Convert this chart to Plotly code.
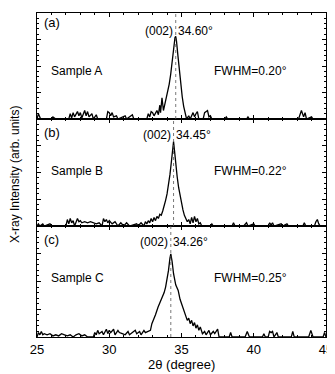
import plotly.graph_objects as go
from plotly.subplots import make_subplots

# ---- data (y as fraction of panel height) ----
xa = [25.0, 25.1, 25.25, 26.0, 26.1, 26.3, 27.2, 27.3, 27.4, 27.5, 27.6, 27.8, 27.9, 28.0, 28.1, 28.3,
      28.4, 28.5, 28.6, 28.8, 28.9, 29.1, 29.2, 29.8, 29.9, 30.0, 30.1, 30.2, 30.3, 30.5, 30.6, 31.1,
      31.2, 31.6, 31.7, 32.6, 32.7, 32.8, 32.9, 33.0, 33.1, 33.3, 33.4, 33.5, 33.55, 33.65, 33.75,
      33.85, 33.95, 34.05, 34.15, 34.25, 34.35, 34.45, 34.55, 34.60, 34.65, 34.75, 34.85, 34.95,
      35.05, 35.15, 35.25, 35.35, 35.5, 35.6, 35.8, 35.9, 36.0, 36.1, 36.2, 36.5, 36.6, 36.8, 36.9,
      37.0, 37.1, 38.0, 38.1, 38.2, 39.5, 39.6, 39.7, 43.1, 43.3, 43.45, 43.55, 43.65, 44.0, 44.1, 45.0]
ya = [0.0, 0.05, 0.0, 0.0, 0.02, 0.0, 0.0, 0.05, 0.01, 0.06, 0.02, 0.07, 0.03, 0.06, 0.01, 0.08,
      0.03, 0.07, 0.02, 0.05, 0.0, 0.04, 0.0, 0.0, 0.07, 0.06, 0.03, 0.06, 0.02, 0.03, 0.0, 0.03,
      0.0, 0.04, 0.0, 0.0, 0.05, 0.02, 0.07, 0.06, 0.03, 0.08, 0.04, 0.13, 0.06, 0.20, 0.08,
      0.14, 0.18, 0.25, 0.33, 0.42, 0.55, 0.68, 0.77, 0.78, 0.74, 0.60, 0.46, 0.33,
      0.21, 0.12, 0.05, 0.0, 0.03, 0.0, 0.06, 0.02, 0.05, 0.07, 0.0, 0.0, 0.06, 0.08, 0.02,
      0.03, 0.0, 0.0, 0.02, 0.0, 0.0, 0.02, 0.0, 0.0, 0.08, 0.02, 0.06, 0.0, 0.02, 0.0, 0.0]

xb = [25.0, 25.1, 25.2, 25.4, 25.5, 25.9, 26.0, 27.0, 27.1, 27.2, 27.3, 27.4, 27.5, 27.6, 27.8, 27.9,
      28.0, 28.1, 28.3, 28.5, 28.7, 28.9, 29.1, 29.3, 29.5, 29.6, 29.7, 29.8, 29.9, 30.0, 30.2, 30.4,
      30.6, 30.8, 31.0, 31.2, 31.4, 31.9, 32.0, 32.2, 32.4, 32.5, 32.6, 32.7, 32.8, 32.9, 33.0, 33.1,
      33.2, 33.3, 33.4, 33.5, 33.6, 33.7, 33.8, 33.9, 34.0, 34.1, 34.2, 34.3, 34.38, 34.45, 34.52,
      34.6, 34.7, 34.8, 34.9, 35.0, 35.1, 35.2, 35.3, 35.4, 35.5, 35.6, 35.7, 35.8, 35.9, 36.0, 36.1,
      36.2, 36.3, 36.4, 37.0, 37.1, 37.2, 38.5, 38.6, 38.7, 39.3, 39.4, 39.5, 39.6, 40.0, 40.1, 41.0,
      41.1, 41.2, 41.3, 41.4, 41.9, 42.0, 42.3, 42.4, 43.4, 43.5, 43.6, 44.2, 44.3, 44.4, 44.5, 44.6, 45.0]
yb = [0.0, 0.02, 0.0, 0.02, 0.0, 0.02, 0.0, 0.0, 0.06, 0.02, 0.07, 0.03, 0.05, 0.0, 0.07, 0.04,
      0.05, 0.03, 0.04, 0.03, 0.04, 0.03, 0.02, 0.03, 0.0, 0.07, 0.04, 0.06, 0.03, 0.05, 0.02, 0.04,
      0.0, 0.03, 0.0, 0.03, 0.0, 0.02, 0.0, 0.03, 0.0, 0.04, 0.02, 0.05, 0.03, 0.07, 0.04, 0.08,
      0.05, 0.09, 0.07, 0.11, 0.10, 0.14, 0.18, 0.24, 0.30, 0.38, 0.48, 0.60, 0.71, 0.79, 0.70,
      0.58, 0.46, 0.36, 0.28, 0.21, 0.15, 0.10, 0.07, 0.04, 0.06, 0.02, 0.08, 0.03, 0.09, 0.04, 0.07,
      0.02, 0.03, 0.0, 0.0, 0.02, 0.0, 0.0, 0.03, 0.0, 0.0, 0.02, 0.03, 0.0, 0.02, 0.0, 0.0,
      0.03, 0.01, 0.03, 0.0, 0.02, 0.0, 0.02, 0.0, 0.0, 0.03, 0.0, 0.0, 0.04, 0.06, 0.02, 0.0, 0.0]

xc = [25.0, 25.1, 25.2, 25.3, 25.4, 25.5, 25.7, 25.9, 26.1, 26.3, 26.5, 26.7, 26.9, 27.1, 27.3, 27.5,
      27.7, 27.9, 28.1, 28.3, 28.5, 28.9, 29.0, 29.1, 29.2, 29.3, 29.5, 29.6, 29.8, 29.9, 30.0, 30.1,
      30.3, 30.4, 30.6, 30.7, 30.9, 31.1, 31.3, 31.4, 31.6, 31.8, 31.9, 32.1, 32.2, 32.4, 32.5, 32.7,
      32.85, 32.95, 33.05, 33.2, 33.38, 33.6, 33.8, 33.9, 34.0, 34.1, 34.2, 34.26, 34.35, 34.45,
      34.6, 34.77, 34.9, 35.07, 35.2, 35.3, 35.4, 35.5, 35.6, 35.7, 35.8, 35.9, 36.0, 36.1, 36.2,
      36.3, 36.45, 36.6, 36.7, 36.9, 37.0, 37.2, 37.3, 37.5, 37.6, 38.3, 38.4, 38.5, 39.4, 39.55,
      39.7, 40.6, 40.7, 40.8, 41.0, 41.1, 41.2, 41.3, 41.4, 41.6, 41.7, 42.6, 42.7, 42.8, 43.8,
      43.95, 44.1, 44.8, 44.9, 45.0]
yc = [0.0, 0.04, 0.02, 0.05, 0.02, 0.03, 0.02, 0.03, 0.01, 0.02, 0.01, 0.03, 0.02, 0.01, 0.02, 0.0,
      0.02, 0.03, 0.01, 0.02, 0.0, 0.0, 0.04, 0.02, 0.06, 0.03, 0.05, 0.02, 0.07, 0.03, 0.06, 0.04,
      0.07, 0.02, 0.06, 0.04, 0.03, 0.02, 0.05, 0.02, 0.04, 0.06, 0.03, 0.05, 0.02, 0.06, 0.04, 0.05,
      0.06, 0.12, 0.16, 0.20, 0.27, 0.33, 0.40, 0.45, 0.52, 0.60, 0.71, 0.75, 0.68, 0.57,
      0.47, 0.42, 0.34, 0.27, 0.21, 0.18, 0.15, 0.17, 0.12, 0.15, 0.10, 0.13, 0.08, 0.11, 0.06,
      0.09, 0.03, 0.05, 0.02, 0.06, 0.02, 0.05, 0.03, 0.07, 0.0, 0.0, 0.04, 0.0, 0.0, 0.05,
      0.0, 0.0, 0.03, 0.0, 0.0, 0.05, 0.04, 0.05, 0.0, 0.04, 0.0, 0.0, 0.05, 0.0, 0.0,
      0.06, 0.0, 0.0, 0.04, 0.0]

panels = ["(a)", "(b)", "(c)"]
samples = ["Sample A", "Sample B", "Sample C"]
peaks = [34.60, 34.45, 34.26]
peak_labels = ["34.60°", "34.45°", "34.26°"]
fwhm = ["FWHM=0.20°", "FWHM=0.22°", "FWHM=0.25°"]
xs = [xa, xb, xc]
ys = [ya, yb, yc]

FONT = "Liberation Sans, Arial, Helvetica, sans-serif"

fig = make_subplots(rows=3, cols=1, shared_xaxes=True, vertical_spacing=0,
                    row_heights=[106, 107, 111])

# label y positions (fraction of each panel)
lab_y = [0.91, 0.875, 0.88]
pk_y = [0.83, 0.85, 0.86]
smp_y = [0.45, 0.51, 0.535]

for i in range(3):
    r = i + 1
    fig.add_trace(go.Scatter(x=xs[i], y=ys[i], mode="lines",
                             line=dict(color="black", width=1.3), showlegend=False),
                  row=r, col=1)
    yref = "y domain" if r == 1 else f"y{r} domain"
    xref = "x" if r == 1 else f"x{r}"
    fig.add_shape(type="line", x0=peaks[i], x1=peaks[i], y0=0, y1=1,
                  xref=xref, yref=yref,
                  line=dict(color="#555555", width=0.8, dash="dot"))
    fig.add_annotation(x=25.35, y=lab_y[i], xref=xref, yref=yref, text=panels[i],
                       showarrow=False, xanchor="left", yanchor="middle",
                       font=dict(size=13, family=FONT, color="black"))
    fig.add_annotation(x=peaks[i] - 0.03, y=pk_y[i], xref=xref, yref=yref, text="(002)",
                       showarrow=False, xanchor="right", yanchor="middle",
                       font=dict(size=12, family=FONT, color="black"))
    fig.add_annotation(x=peaks[i] + 0.03, y=pk_y[i], xref=xref, yref=yref, text=peak_labels[i],
                       showarrow=False, xanchor="left", yanchor="middle",
                       font=dict(size=12, family=FONT, color="black"))
    fig.add_annotation(x=25.8, y=smp_y[i], xref=xref, yref=yref, text=samples[i],
                       showarrow=False, xanchor="left", yanchor="middle",
                       font=dict(size=12, family=FONT, color="black"))
    fig.add_annotation(x=37.1, y=smp_y[i], xref=xref, yref=yref, text=fwhm[i],
                       showarrow=False, xanchor="left", yanchor="middle",
                       font=dict(size=12, family=FONT, color="black"))

    fig.update_xaxes(range=[25, 45], tickmode="linear", tick0=25, dtick=5,
                     ticks="inside", ticklen=4, tickwidth=1, tickcolor="black",
                     minor=dict(dtick=1, ticks="inside", ticklen=2, tickcolor="black"),
                     showline=True, linecolor="black", linewidth=1.2, mirror="ticks",
                     showgrid=False, zeroline=False, automargin=False, row=r, col=1)
    fig.update_yaxes(range=[0, 1], tickmode="linear", tick0=0, dtick=0.25,
                     ticks="inside", ticklen=4, tickwidth=1, tickcolor="black",
                     minor=dict(dtick=0.05, ticks="inside", ticklen=2, tickcolor="black"),
                     showticklabels=False,
                     showline=True, linecolor="black", linewidth=1.2, mirror="ticks",
                     showgrid=False, zeroline=False, automargin=False, row=r, col=1)

fig.update_xaxes(tickfont=dict(size=13, family=FONT, color="black"), row=3, col=1)

fig.add_annotation(x=0.5, y=0, xref="paper", yref="paper", yshift=-27,
                   text="2θ (degree)", showarrow=False,
                   xanchor="center", yanchor="middle",
                   font=dict(size=13, family=FONT, color="black"))

fig.add_annotation(x=0, y=0.5, xref="paper", yref="paper", xshift=-22,
                   text="X-ray Intensity (arb. units)", textangle=-90, showarrow=False,
                   xanchor="center", yanchor="middle",
                   font=dict(size=12, family=FONT, color="black"))

# the page places the figure 8px from the top-left corner of the window
fig.update_layout(width=327, height=366, margin=dict(l=29, r=9, t=5, b=37),
                  paper_bgcolor="white", plot_bgcolor="white",
                  font=dict(family=FONT, color="black"))

fig.write_html("out.html")
